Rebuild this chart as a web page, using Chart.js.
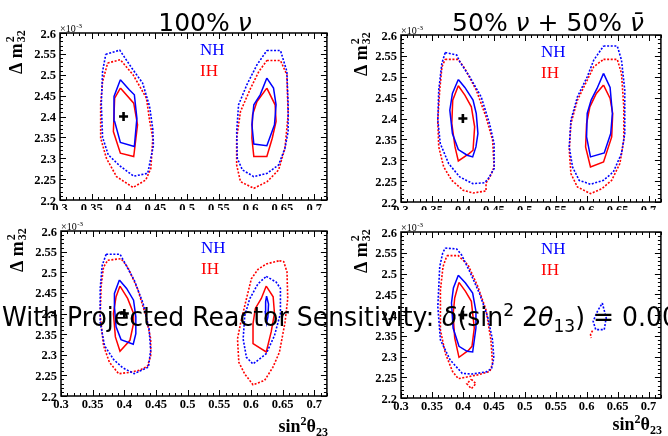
<!DOCTYPE html>
<html lang="en">
<head>
<meta charset="UTF-8">
<title>Octant sensitivity contours</title>
<script src="https://cdn.jsdelivr.net/npm/chart.js"></script>
<style>
    html, body { margin: 0; padding: 0; background: #fff; overflow: hidden; }
    #wrap { position: relative; width: 668px; height: 436px; overflow: hidden; background: #fff; }
    canvas { position: absolute; }
    .title { position: absolute; width: 300px; text-align: center; font: 25px "DejaVu Sans"; line-height: 1; white-space: nowrap; color: #000; }
    #overlay { position: absolute; left: 2px; top: 303px; font: 27px "DejaVu Sans"; line-height: 1; white-space: nowrap;
               transform: scaleX(0.93); transform-origin: 0 0; color: #000; }
    .sm { font-size: 0.68em; position: relative; }
</style>
</head>
<body>
<div id="wrap">
    <canvas id="c1" width="334" height="215" style="left:0;top:0"></canvas>
    <canvas id="c2" width="334" height="215" style="left:334px;top:0"></canvas>
    <canvas id="c3" width="334" height="226" style="left:0;top:210px"></canvas>
    <canvas id="c4" width="334" height="226" style="left:334px;top:210px"></canvas>
    <div class="title" style="left:55px;top:10px">100% <i>ν</i></div>
    <div class="title" style="left:398px;top:10px">50% <i>ν</i> + 50% <i>ν̄</i></div>
    <div id="overlay">With Projected Reactor Sensitivity: <i>δ</i>(sin<span class="sm" style="top:-0.55em">2</span> 2<i>θ</i><span class="sm" style="top:0.3em">13</span>) = 0.005</div>
</div>

<script>
    // axis ticks (sin^2 theta23, dm^2_32 in 1e-3 eV^2)
    const xTicks = [0.3, 0.35, 0.4, 0.45, 0.5, 0.55, 0.6, 0.65, 0.7];
    const yTicks = [2.2, 2.25, 2.3, 2.35, 2.4, 2.45, 2.5, 2.55, 2.6];
    const bestFit = [[0.4, 2.4]];

    // 100% nu
    const p1NhDashLo = [[0.372,2.549],[0.394,2.559],[0.413,2.516],[0.430,2.480],[0.441,2.424],[0.446,2.370],[0.447,2.330],[0.438,2.264],[0.416,2.257],[0.394,2.282],[0.376,2.308],[0.367,2.350],[0.365,2.430],[0.367,2.508]];
    const p1IhDashLo = [[0.375,2.528],[0.395,2.536],[0.415,2.500],[0.436,2.444],[0.441,2.390],[0.446,2.348],[0.443,2.276],[0.435,2.248],[0.415,2.230],[0.389,2.256],[0.373,2.300],[0.364,2.348],[0.364,2.430],[0.367,2.484]];
    const p1NhSolidLo = [[0.395,2.488],[0.409,2.464],[0.417,2.452],[0.421,2.396],[0.417,2.328],[0.395,2.338],[0.386,2.388],[0.385,2.448]];
    const p1IhSolidLo = [[0.395,2.468],[0.416,2.432],[0.422,2.380],[0.416,2.304],[0.395,2.312],[0.384,2.364],[0.386,2.444]];
    const p1NhDashHi = [[0.6255,2.558],[0.647,2.558],[0.657,2.508],[0.659,2.428],[0.659,2.364],[0.654,2.324],[0.644,2.284],[0.626,2.264],[0.605,2.256],[0.587,2.272],[0.579,2.300],[0.578,2.364],[0.581,2.428],[0.594,2.476],[0.610,2.524]];
    const p1IhDashHi = [[0.6255,2.534],[0.647,2.534],[0.657,2.500],[0.659,2.404],[0.654,2.324],[0.644,2.272],[0.626,2.244],[0.605,2.228],[0.584,2.244],[0.578,2.284],[0.578,2.348],[0.584,2.412],[0.600,2.468],[0.613,2.508]];
    const p1NhSolidHi = [[0.6255,2.492],[0.636,2.468],[0.640,2.428],[0.6375,2.380],[0.6255,2.330],[0.605,2.334],[0.602,2.380],[0.605,2.428],[0.615,2.452]];
    const p1IhSolidHi = [[0.6255,2.468],[0.6385,2.428],[0.640,2.388],[0.634,2.348],[0.6255,2.304],[0.605,2.304],[0.602,2.348],[0.603,2.404],[0.610,2.436]];

    // 50% nu + 50% nubar
    const p2NhDashLo = [[0.3715,2.558],[0.390,2.552],[0.395,2.536],[0.411,2.500],[0.4295,2.452],[0.443,2.388],[0.4505,2.340],[0.4505,2.280],[0.441,2.256],[0.435,2.246],[0.416,2.244],[0.395,2.260],[0.377,2.292],[0.3635,2.340],[0.3595,2.396],[0.361,2.468],[0.366,2.532]];
    const p2IhDashLo = [[0.3715,2.5416],[0.3926,2.5416],[0.403,2.520],[0.4216,2.468],[0.4374,2.404],[0.448,2.348],[0.4505,2.284],[0.4438,2.260],[0.4374,2.2456],[0.4374,2.2264],[0.4164,2.2216],[0.4005,2.228],[0.382,2.252],[0.369,2.284],[0.361,2.332],[0.3594,2.396],[0.3626,2.468],[0.3662,2.524]];
    const p2NhSolidLo = [[0.3926,2.4936],[0.4032,2.4744],[0.4164,2.444],[0.4216,2.412],[0.4243,2.364],[0.4211,2.332],[0.4158,2.308],[0.4069,2.312],[0.3926,2.3256],[0.3831,2.364],[0.3789,2.420],[0.3831,2.460]];
    const p2IhSolidLo = [[0.3926,2.4784],[0.4032,2.456],[0.4137,2.428],[0.419,2.380],[0.4164,2.324],[0.41,2.316],[0.3926,2.2984],[0.3873,2.332],[0.3821,2.388],[0.3836,2.444]];
    const p2NhDashHi = [[0.6273,2.5736],[0.6495,2.5736],[0.6563,2.540],[0.6616,2.468],[0.6616,2.364],[0.6563,2.316],[0.6431,2.272],[0.6273,2.252],[0.6062,2.2424],[0.5878,2.252],[0.5772,2.284],[0.5719,2.332],[0.5746,2.396],[0.5851,2.452],[0.601,2.500],[0.6115,2.540]];
    const p2IhDashHi = [[0.6273,2.5416],[0.6495,2.5416],[0.6563,2.508],[0.66,2.428],[0.66,2.348],[0.6537,2.292],[0.6405,2.252],[0.6247,2.232],[0.6062,2.220],[0.5851,2.236],[0.5746,2.268],[0.5719,2.324],[0.5746,2.388],[0.5851,2.444],[0.601,2.492],[0.6115,2.524]];
    const p2NhSolidHi = [[0.6273,2.508],[0.6379,2.4744],[0.6416,2.412],[0.6389,2.364],[0.6284,2.3176],[0.6062,2.308],[0.5999,2.356],[0.6009,2.412],[0.6073,2.444],[0.6168,2.472]];
    const p2IhSolidHi = [[0.6273,2.480],[0.6379,2.448],[0.6421,2.412],[0.6405,2.356],[0.6273,2.296],[0.6062,2.284],[0.5983,2.332],[0.5999,2.388],[0.6052,2.428],[0.6157,2.460]];

    // 100% nu, with reactor constraint
    const p3NhDashLo = [[0.3713,2.5436],[0.3932,2.5436],[0.40,2.5249],[0.4156,2.4811],[0.4297,2.4243],[0.4391,2.3627],[0.4417,2.3108],[0.4381,2.2702],[0.4156,2.254],[0.3974,2.2686],[0.3833,2.2881],[0.3687,2.3221],[0.3619,2.3789],[0.3619,2.46],[0.3651,2.5168]];
    const p3IhDashLo = [[0.3739,2.529],[0.3948,2.533],[0.4052,2.5127],[0.4209,2.46],[0.4339,2.3951],[0.4417,2.3384],[0.4417,2.2978],[0.4365,2.2719],[0.4235,2.2621],[0.4078,2.2573],[0.3911,2.254],[0.3765,2.2816],[0.3672,2.3221],[0.3619,2.3951],[0.3635,2.4681],[0.3672,2.5127]];
    const p3NhSolidLo = [[0.3922,2.4811],[0.4036,2.4608],[0.4146,2.4324],[0.4182,2.3919],[0.4182,2.3513],[0.4141,2.3254],[0.3948,2.3367],[0.387,2.3676],[0.3844,2.4162],[0.3844,2.4487]];
    const p3IhSolidLo = [[0.3932,2.4665],[0.4052,2.4365],[0.4146,2.4],[0.4146,2.3757],[0.4089,2.3351],[0.3932,2.3084],[0.3859,2.3432],[0.3828,2.4],[0.387,2.4406]];
    const p3NhDashHi = [[0.6242,2.49],[0.6398,2.4762],[0.6466,2.4608],[0.6466,2.4],[0.6372,2.3465],[0.6242,2.3027],[0.6033,2.2775],[0.5929,2.2938],[0.5877,2.3384],[0.5903,2.3951],[0.5981,2.4357],[0.6112,2.4722]];
    const p3IhDashHi = [[0.645,2.5281],[0.6518,2.5257],[0.657,2.5006],[0.6581,2.4357],[0.6539,2.3789],[0.645,2.3059],[0.6346,2.2694],[0.6216,2.2378],[0.6033,2.2273],[0.5903,2.2532],[0.5809,2.2816],[0.5788,2.3384],[0.584,2.3789],[0.5929,2.4357],[0.6007,2.4843],[0.6112,2.5071],[0.6242,2.52]];
    const p3NhSolidHi = [[0.6247,2.4422],[0.6278,2.4227],[0.6268,2.3919],[0.6247,2.3773],[0.6226,2.4041],[0.6232,2.4284]];
    const p3IhSolidHi = [[0.6242,2.4665],[0.6351,2.4406],[0.6372,2.4],[0.632,2.3554],[0.6242,2.3067],[0.6033,2.327],[0.6033,2.3757],[0.607,2.4122],[0.6164,2.4365]];

    // 50/50, with reactor constraint
    const p4NhDashLo = [[0.3716,2.5614],[0.39,2.559],[0.3979,2.5446],[0.4111,2.5044],[0.4268,2.4522],[0.44,2.396],[0.4479,2.3398],[0.45,2.2964],[0.4463,2.2707],[0.4374,2.2627],[0.4147,2.2578],[0.3989,2.2594],[0.3795,2.2916],[0.3637,2.3398],[0.3595,2.4201],[0.3626,2.5165],[0.3674,2.5494]];
    const p4IhDashLo = [[0.3742,2.543],[0.3926,2.543],[0.4084,2.5205],[0.4242,2.4683],[0.4374,2.412],[0.4453,2.3398],[0.4479,2.2835],[0.4437,2.2643],[0.4253,2.2562],[0.3926,2.2466],[0.3832,2.2643],[0.3716,2.3076],[0.3637,2.3639],[0.3637,2.4602],[0.3679,2.5165]];
    const p4IhDashLoIsle = [[0.4137,2.245],[0.4211,2.2345],[0.4137,2.2225],[0.4063,2.2345]];
    const p4NhSolidLo = [[0.3926,2.4956],[0.4042,2.4771],[0.4158,2.453],[0.4211,2.4088],[0.4211,2.3687],[0.4158,2.3108],[0.4068,2.3124],[0.3937,2.3245],[0.3842,2.3687],[0.3816,2.4289],[0.3847,2.4651]];
    const p4IhSolidLo = [[0.3937,2.4787],[0.4042,2.457],[0.4137,2.4329],[0.4184,2.3687],[0.4147,2.3245],[0.4084,2.3141],[0.3937,2.298],[0.3868,2.3446],[0.3842,2.4008],[0.3868,2.441]];
    const p4NhDashHi = [[0.6253,2.4289],[0.6316,2.3928],[0.6284,2.3647],[0.6147,2.3647],[0.6105,2.3847],[0.6174,2.4088]];
    const p4IhDashHi = [[0.6095,2.3622],[0.6063,2.3526],[0.6074,2.3446]];

    const BLUE = '#0000ff';
    const RED = '#ff0000';

    const contour = (arr, color, dashed, closed = true) => {
        const data = arr.map(([x, y]) => ({x, y}));
        if (closed) data.push({x: arr[0][0], y: arr[0][1]});
        return {
            data: data,
            showLine: true,
            borderColor: color,
            backgroundColor: color,
            borderWidth: dashed ? 1.6 : 1.5,
            borderDash: dashed ? [2, 1.6] : [],
            pointRadius: 0,
            tension: 0,
            fill: false
        };
    };

    const marker = () => ({
        data: bestFit.map(([x, y]) => ({x, y})),
        showLine: false,
        pointStyle: 'cross',
        pointRadius: 4.5,
        borderWidth: 2.6,
        borderColor: '#000',
        backgroundColor: '#000'
    });

    // ROOT-like frame: ticks inside, labels, axis titles, NH/IH text
    const rootFrame = {
        id: 'rootFrame',
        beforeDraw(chart) {
            const c = chart.ctx;
            c.save();
            c.fillStyle = '#fff';
            c.fillRect(0, 0, chart.width, chart.height);
            c.restore();
        },
        afterDraw(chart, args, o) {
            const {ctx, chartArea: a} = chart;
            const xs = chart.scales.x, ys = chart.scales.y;
            ctx.save();
            ctx.strokeStyle = '#000';
            ctx.lineWidth = 1.5;
            ctx.strokeRect(a.left, a.top, a.right - a.left, a.bottom - a.top);

            ctx.lineWidth = 1;
            ctx.beginPath();
            for (let i = 30; i <= 72; i++) {
                const px = Math.round(xs.getPixelForValue(i / 100)) + 0.5;
                const len = i % 5 === 0 ? 6 : 3;
                ctx.moveTo(px, a.bottom); ctx.lineTo(px, a.bottom - len);
                ctx.moveTo(px, a.top); ctx.lineTo(px, a.top + len);
            }
            for (let i = 220; i <= 260; i++) {
                const py = Math.round(ys.getPixelForValue(i / 100)) + 0.5;
                const len = i % 5 === 0 ? 6 : 3;
                ctx.moveTo(a.left, py); ctx.lineTo(a.left + len, py);
                ctx.moveTo(a.right, py); ctx.lineTo(a.right - len, py);
            }
            ctx.stroke();

            ctx.fillStyle = '#000';
            ctx.font = 'bold 12.5px "Liberation Serif"';
            ctx.textAlign = 'center';
            ctx.textBaseline = 'alphabetic';
            xTicks.forEach(v => ctx.fillText(String(v), xs.getPixelForValue(v), a.bottom + 12));
            ctx.textAlign = 'right';
            yTicks.forEach(v => ctx.fillText(String(v), a.left - 4, ys.getPixelForValue(v) + 4.5));

            // x10^-3
            ctx.textAlign = 'left';
            ctx.font = '10px "Liberation Serif"';
            ctx.fillText('\u00d710', a.left, a.top - 1);
            const w10 = ctx.measureText('\u00d710').width;
            ctx.font = '7px "Liberation Serif"';
            ctx.fillText('-3', a.left + w10 + 0.5, a.top - 5);

            // y title, rotated
            ctx.save();
            ctx.translate(o.yTitleX, a.top + 41);
            ctx.rotate(-Math.PI / 2);
            ctx.font = 'bold 18px "Liberation Serif"';
            ctx.fillText('\u0394 m', 0, 0);
            const wm = ctx.measureText('\u0394 m').width;
            ctx.font = 'bold 12px "Liberation Serif"';
            ctx.fillText('2', wm + 1, -8);
            ctx.fillText('32', wm + 1, 3);
            ctx.restore();

            // NH / IH labels
            ctx.font = '17px "Liberation Serif"';
            ctx.fillStyle = BLUE;
            ctx.fillText('NH', a.left + 140, a.top + 22);
            ctx.fillStyle = RED;
            ctx.fillText('IH', a.left + 140, a.top + 43);

            // x title
            if (o.xTitleY) {
                ctx.fillStyle = '#000';
                const big = 'bold 18px "Liberation Serif"', small = 'bold 12px "Liberation Serif"';
                const parts = [['sin', big, 0], ['2', small, -7], ['\u03b8', big, 0], ['23', small, 4]];
                let tot = 0;
                parts.forEach(p => { ctx.font = p[1]; tot += ctx.measureText(p[0]).width; });
                let x0 = a.right + 1 - tot;
                parts.forEach(p => {
                    ctx.font = p[1];
                    ctx.fillText(p[0], x0, o.xTitleY + p[2]);
                    x0 += ctx.measureText(p[0]).width;
                });
            }
            ctx.restore();
        }
    };

    const panels = [
        {
            id: 'c1', pad: {left: 60, right: 5, top: 33, bottom: 15}, yTitleX: 22, xTitleY: 0,
            sets: [
                contour(p1NhDashLo, BLUE, true), contour(p1IhDashLo, RED, true),
                contour(p1NhSolidLo, BLUE, false), contour(p1IhSolidLo, RED, false),
                contour(p1NhDashHi, BLUE, true), contour(p1IhDashHi, RED, true),
                contour(p1NhSolidHi, BLUE, false), contour(p1IhSolidHi, RED, false)
            ]
        },
        {
            id: 'c2', pad: {left: 67, right: 1, top: 35, bottom: 13}, yTitleX: 33, xTitleY: 0,
            sets: [
                contour(p2NhDashLo, BLUE, true), contour(p2IhDashLo, RED, true),
                contour(p2NhSolidLo, BLUE, false), contour(p2IhSolidLo, RED, false),
                contour(p2NhDashHi, BLUE, true), contour(p2IhDashHi, RED, true),
                contour(p2NhSolidHi, BLUE, false), contour(p2IhSolidHi, RED, false)
            ]
        },
        {
            id: 'c3', pad: {left: 61, right: 4, top: 21, bottom: 40}, yTitleX: 23, xTitleY: 222,
            sets: [
                contour(p3NhDashLo, BLUE, true), contour(p3IhDashLo, RED, true),
                contour(p3NhSolidLo, BLUE, false), contour(p3IhSolidLo, RED, false),
                contour(p3NhDashHi, BLUE, true), contour(p3IhDashHi, RED, true),
                contour(p3NhSolidHi, BLUE, false), contour(p3IhSolidHi, RED, false)
            ]
        },
        {
            id: 'c4', pad: {left: 67, right: 1, top: 22, bottom: 38}, yTitleX: 33, xTitleY: 220,
            sets: [
                contour(p4NhDashLo, BLUE, true), contour(p4IhDashLo, RED, true),
                contour(p4IhDashLoIsle, RED, true),
                contour(p4NhSolidLo, BLUE, false), contour(p4IhSolidLo, RED, false),
                contour(p4NhDashHi, BLUE, true), contour(p4IhDashHi, RED, true, false)
            ]
        }
    ];

    panels.forEach(p => {
        new Chart(document.getElementById(p.id), {
            type: 'scatter',
            data: {datasets: [...p.sets, marker()]},
            options: {
                responsive: false,
                animation: false,
                devicePixelRatio: 1,
                layout: {padding: p.pad},
                scales: {
                    x: {type: 'linear', min: 0.3, max: 0.72, display: false},
                    y: {type: 'linear', min: 2.2, max: 2.6, display: false}
                },
                plugins: {
                    legend: {display: false},
                    tooltip: {enabled: false},
                    rootFrame: {yTitleX: p.yTitleX, xTitleY: p.xTitleY}
                }
            },
            plugins: [rootFrame]
        });
    });
</script>
</body>
</html>
